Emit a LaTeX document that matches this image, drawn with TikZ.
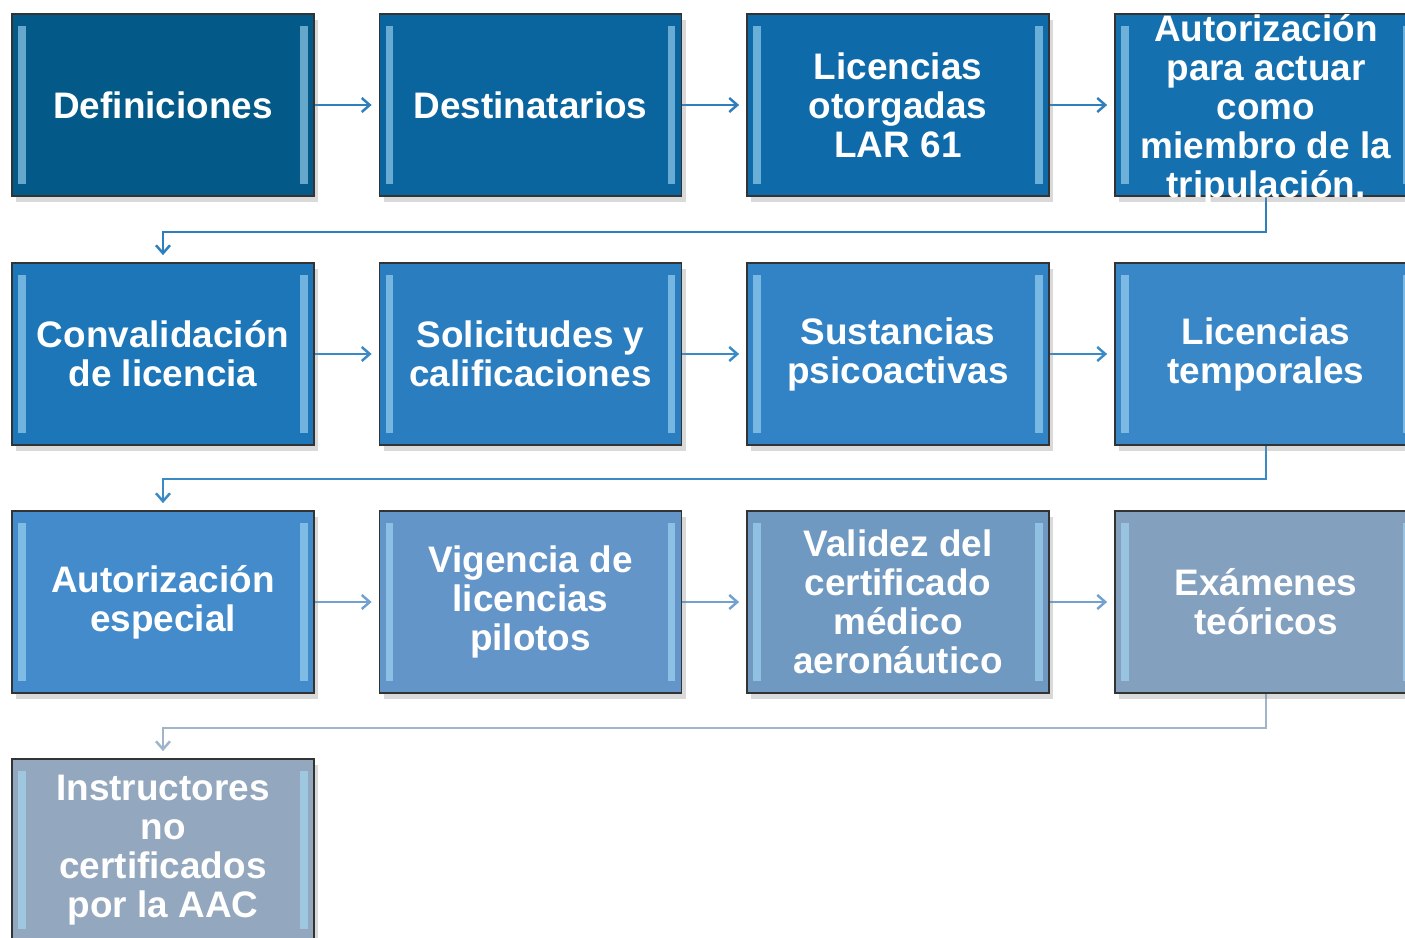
\documentclass[tikz,border=0pt]{standalone}
\usepackage{fontspec}
\setmainfont{Liberation Sans}
\definecolor{SecA}{HTML}{035A88}
\definecolor{SecB}{HTML}{0A649E}
\definecolor{SecC}{HTML}{0E6AA8}
\definecolor{SecD}{HTML}{1570B0}
\definecolor{SecE}{HTML}{1C76B7}
\definecolor{SecF}{HTML}{2A7EC0}
\definecolor{SecG}{HTML}{3283C6}
\definecolor{SecH}{HTML}{3A87C8}
\definecolor{SecI}{HTML}{438BCA}
\definecolor{SecJ}{HTML}{6495C8}
\definecolor{SecK}{HTML}{7099C2}
\definecolor{SecL}{HTML}{84A0BF}
\definecolor{SecM}{HTML}{93A7BE}
\definecolor{LinkA}{HTML}{2F7FBD}
\definecolor{LinkB}{HTML}{3A8AC8}
\definecolor{LinkC}{HTML}{72A0CF}
\definecolor{LinkD}{HTML}{A0B4CA}
\definecolor{Gloss}{HTML}{A8DDF8}
\usetikzlibrary{positioning,arrows.meta,shadows,backgrounds}

\begin{document}
\begin{tikzpicture}[
      every node/.style={font=\bfseries\fontsize{10.5}{11.1}\selectfont, text=white, align=center},
      sec/.style={draw=black!80, line width=0.5pt, inner sep=0pt,
                  minimum width=30.2mm, minimum height=18.2mm,
                  drop shadow={shadow xshift=0.4mm, shadow yshift=-0.6mm, opacity=0.3},
                  path picture={
                    \draw[Gloss, opacity=0.6, line width=2pt]
                      ([xshift=1mm,yshift=-1.2mm]path picture bounding box.north west) --
                      ([xshift=1mm,yshift=1.2mm]path picture bounding box.south west);
                    \draw[Gloss, opacity=0.6, line width=2pt]
                      ([xshift=-1mm,yshift=-1.2mm]path picture bounding box.north east) --
                      ([xshift=-1mm,yshift=1.2mm]path picture bounding box.south east);
                  }},
      arr/.style={-{Straight Barb[length=0.8mm,width=1.4mm]}, line width=0.7pt, shorten >=0.7mm}
  ]
    \useasboundingbox (0,0) rectangle (14.05,-9.38);
    % row 1
    \node[sec, fill=SecA] (sec1) at (1.63,-1.05) {Definiciones};
    \node[sec, fill=SecB] (sec2) at (5.305,-1.05) {Destinatarios};
    \node[sec, fill=SecC] (sec3) at (8.98,-1.05) {Licencias\\otorgadas\\LAR 61};
    \node[sec, fill=SecD, label={[yshift=-0.5mm]center:Autorización\\para actuar\\como\\miembro de la\\tripulación.}] (sec4) at (12.66,-1.05) {};
    % row 2
    \node[sec, fill=SecE] (sec5) at (1.63,-3.54) {Convalidación\\de licencia};
    \node[sec, fill=SecF] (sec6) at (5.305,-3.54) {Solicitudes y\\calificaciones};
    \node[sec, fill=SecG] (sec7) at (8.98,-3.54) {Sustancias\\psicoactivas};
    \node[sec, fill=SecH] (sec8) at (12.66,-3.54) {Licencias\\temporales};
    % row 3
    \node[sec, fill=SecI] (sec9) at (1.63,-6.02) {Autorización\\especial};
    \node[sec, fill=SecJ] (sec10) at (5.305,-6.02) {Vigencia de\\licencias\\pilotos};
    \node[sec, fill=SecK] (sec11) at (8.98,-6.02) {Validez del\\certificado\\médico\\aeronáutico};
    \node[sec, fill=SecL] (sec12) at (12.66,-6.02) {Exámenes\\teóricos};
    % row 4
    \node[sec, fill=SecM] (sec13) at (1.63,-8.50) {Instructores\\no\\certificados\\por la AAC};

    \begin{scope}[on background layer]
    \foreach \a/\b in {1/2,2/3,3/4} {
      \draw[arr, LinkA] (sec\a) -- (sec\b);
    }
    \foreach \a/\b in {5/6,6/7,7/8} {
      \draw[arr, LinkB] (sec\a) -- (sec\b);
    }
    \foreach \a/\b in {9/10,10/11,11/12} {
      \draw[arr, LinkC] (sec\a) -- (sec\b);
    }
    \draw[arr, LinkA] (sec4.south) -- ++(0,-0.35) -| (sec5.north);
    \draw[arr, LinkB] (sec8.south) -- ++(0,-0.33) -| (sec9.north);
    \draw[arr, LinkD] (sec12.south) -- ++(0,-0.34) -| (sec13.north);
    \end{scope}
  \end{tikzpicture}
\end{document}
